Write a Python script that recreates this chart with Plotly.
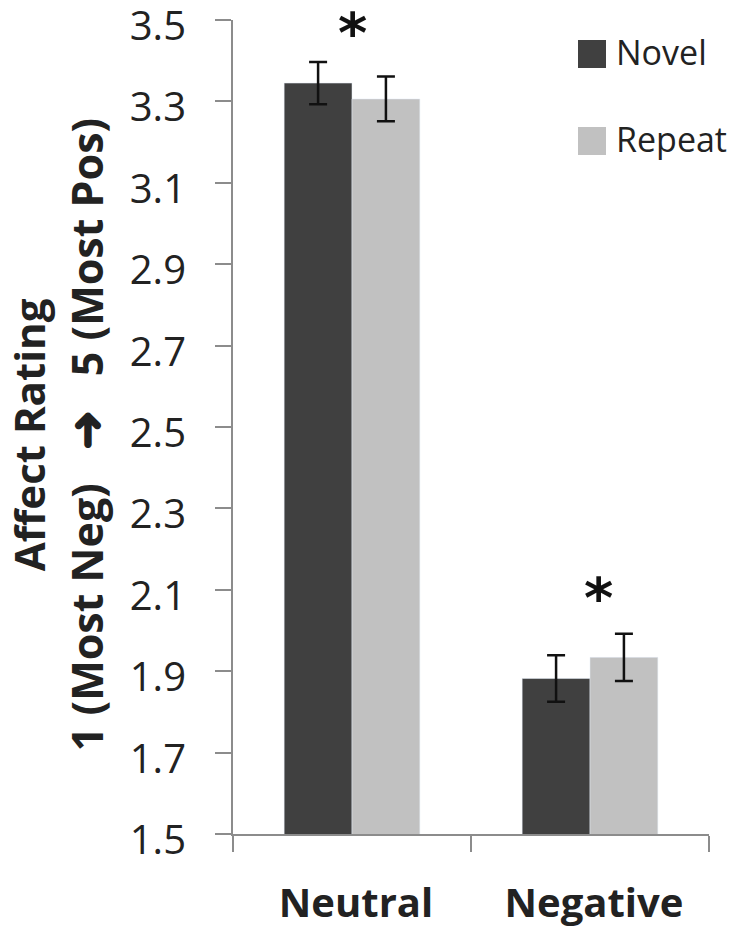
import plotly.graph_objects as go

categories = ["Neutral", "Negative"]
novel = [3.345, 1.882]
repeat = [3.306, 1.934]
novel_err = [0.052, 0.057]
repeat_err = [0.055, 0.058]
sig_pos = [3.48, 2.09]
y_ticks = [1.5, 1.7, 1.9, 2.1, 2.3, 2.5, 2.7, 2.9, 3.1, 3.3, 3.5]
y_labels = ["1.5", "1.7", "1.9", "2.1", "2.3", "2.5", "2.7", "2.9", "3.1", "3.3", "3.5"]

W, H = 733, 934
L, R, T, B = 233, 709, 20, 834          # plot box in page pixels
pw, ph = R - L, B - T

def px(x):
    return (x - L) / pw

def py(y):
    return 1 - (y - T) / ph

fig = go.Figure()
fig.add_trace(go.Bar(x=categories, y=novel, name="Novel", marker_color="#404040",
                     error_y=dict(type="data", array=novel_err, color="#111111", thickness=2.5, width=9)))
fig.add_trace(go.Bar(x=categories, y=repeat, name="Repeat", marker_color="#c1c1c1",
                     error_y=dict(type="data", array=repeat_err, color="#111111", thickness=2.5, width=9)))

# significance stars
for i, c in enumerate(categories):
    fig.add_annotation(x=c, y=sig_pos[i], text="<b>*</b>", showarrow=False,
                       xshift=[0, 8][i], yshift=-4,
                       font=dict(size=56, color="#111111", family="DejaVu Sans"))

# legend drawn by hand so the swatches can be big
legend_names = ["Novel", "Repeat"]
legend_cols = ["#404040", "#c1c1c1"]
for i, (n, col) in enumerate(zip(legend_names, legend_cols)):
    top = 40 + i * 87
    fig.add_shape(type="rect", xref="paper", yref="paper",
                  x0=px(578), x1=px(606), y0=py(top + 28), y1=py(top),
                  fillcolor=col, line_width=0)
    fig.add_annotation(xref="paper", yref="paper", x=px(614), y=py(top + 12),
                       xanchor="left", yanchor="middle", text=n, showarrow=False,
                       font=dict(size=34, color="#222222"))

# y title, two lines
fig.add_annotation(xref="paper", yref="paper", x=px(28), y=0.49, textangle=-90,
                   xanchor="center", yanchor="middle",
                   text="<b>Affect Rating</b>", showarrow=False,
                   font=dict(size=42, color="#222222"))
fig.add_annotation(xref="paper", yref="paper", x=px(84), y=0.49, textangle=-90,
                   xanchor="center", yanchor="middle",
                   text="<b>1 (Most Neg)&nbsp;&nbsp;&nbsp;<span style='font-size:48px'>\u279c</span>&nbsp;&nbsp;&nbsp;5 (Most Pos)</b>",
                   showarrow=False, font=dict(size=43, color="#222222"))

fig.update_layout(
    width=W, height=H,
    margin=dict(l=L, r=W - R, t=T, b=H - B),
    plot_bgcolor="white", paper_bgcolor="white",
    barmode="group", bargap=0.43, bargroupgap=0,
    showlegend=False,
    font=dict(family="Open Sans", color="#222222"),
)
fig.update_yaxes(range=[1.5, 3.5], tickvals=y_ticks, ticktext=y_labels,
                 showgrid=False, zeroline=False, automargin=False,
                 showline=True, linecolor="#8c8c8c", linewidth=2,
                 ticks="outside", ticklen=16, tickwidth=2, tickcolor="#8c8c8c",
                 ticklabelstandoff=21, ticklabeloverflow="allow", ticklabelshift=6,
                 tickfont=dict(size=40, color="#222222"))
fig.update_xaxes(showgrid=False, showline=True, linecolor="#8c8c8c", linewidth=2,
                 automargin=False,
                 ticks="outside", ticklen=16, tickwidth=2, tickcolor="#8c8c8c",
                 tickson="boundaries", ticklabelstandoff=33, ticklabelshift=4,
                 tickfont=dict(size=40, color="#222222", family="Open Sans"),
                 ticktext=["<b>Neutral</b>", "<b>Negative</b>"], tickvals=categories)

# drop the browser's default 8px body margin so the figure fills the window
fig.write_html("out.html", config={"displayModeBar": False},
               post_script="document.body.style.margin='0';")
